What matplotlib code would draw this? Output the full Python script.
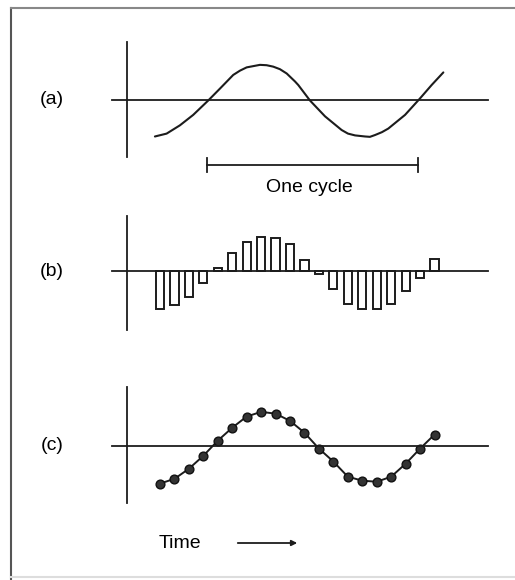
import matplotlib.pyplot as plt
from matplotlib.lines import Line2D

plt.rcParams['font.family'] = ['Liberation Sans', 'DejaVu Sans']

# (a) continuous signal (time in sample units)
t_a = [0.65, 1.46, 2.38, 3.30, 4.34, 5.15, 6.07, 6.54, 7.00, 7.92, 8.38, 8.84, 9.30, 9.77,
       10.34, 10.57, 11.38, 12.42, 13.57, 14.01, 14.50, 15.19, 15.53, 15.88, 16.36, 16.80,
       17.96, 19.00, 19.80, 20.61]
v_a = [-1.00, -0.92, -0.69, -0.40, 0.00, 0.33, 0.71, 0.83, 0.92, 0.99, 0.98, 0.94, 0.87, 0.75,
       0.53, 0.43, 0.00, -0.44, -0.82, -0.92, -0.97, -1.00, -1.01, -0.96, -0.88, -0.78,
       -0.40, 0.06, 0.43, 0.78]

# (b) sampled values as bars, (c) sampled values as dots
n = list(range(1, 21))
v_b = [-1.05, -0.94, -0.72, -0.33, 0.11, 0.50, 0.81, 0.97, 0.92, 0.75,
       0.33, -0.08, -0.50, -0.89, -1.05, -1.05, -0.89, -0.53, -0.17, 0.36]
v_c = [-1.05, -0.92, -0.64, -0.28, 0.14, 0.50, 0.81, 0.94, 0.89, 0.69,
       0.36, -0.08, -0.44, -0.86, -0.97, -1.00, -0.86, -0.50, -0.08, 0.31]

panel_labels = ['(a)', '(b)', '(c)']

W, H = 515, 580
ink = '#1c1c1c'
fig = plt.figure(figsize=(W / 100, H / 100), dpi=100)


def px(x, y):
    return x / W, 1 - y / H


def make_axes(top, bottom, ylo, yhi):
    ax = fig.add_axes([112 / W, 1 - bottom / H, 376 / W, (bottom - top) / H])
    ax.patch.set_alpha(0)
    ax.set_xlim(-2.32, 23.70)
    ax.set_ylim(ylo, yhi)
    ax.spines['top'].set_visible(False)
    ax.spines['right'].set_visible(False)
    ax.spines['left'].set_position(('data', -1.26))
    ax.spines['bottom'].set_position(('data', 0))
    for s in ['left', 'bottom']:
        ax.spines[s].set_linewidth(1.3)
        ax.spines[s].set_color(ink)
    ax.set_xticks([])
    ax.set_yticks([])
    return ax


ax_a = make_axes(42, 157, -1.57, 1.625)
ax_b = make_axes(216, 330, -1.625, 1.54)
ax_c = make_axes(387, 503, -1.59, 1.63)

ax_a.plot(t_a, v_a, color=ink, lw=1.5, solid_capstyle='round', solid_joinstyle='round')

# one cycle marker under the curve
y_cyc = -1.79
ax_a.plot([4.25, 18.85], [y_cyc, y_cyc], color=ink, lw=1.3, clip_on=False)
for t in [4.25, 18.85]:
    ax_a.plot([t, t], [y_cyc - 0.2, y_cyc + 0.2], color=ink, lw=1.3, clip_on=False)

ax_b.bar(n, v_b, width=0.57, facecolor='white', edgecolor=ink, linewidth=1.4)

ax_c.plot(n, v_c, '-o', color=ink, lw=1.4, ms=6.3, mfc='#333333', mec='#111111')

fig.text(*px(309, 188), 'One cycle', ha='center', va='center', fontsize=14)
for lab, y in zip(panel_labels, [100, 271, 445]):
    fig.text(*px(52, y), lab, ha='center', va='center', fontsize=14)

fig.text(*px(159, 543), 'Time', ha='left', va='center', fontsize=14)
ax_c.annotate('', xy=px(300, 543), xytext=px(235, 543), xycoords='figure fraction',
              arrowprops=dict(arrowstyle='-|>', color=ink, lw=1.3, mutation_scale=8))

# page frame
fig.add_artist(Line2D([11 / W, 11 / W], [0, 1 - 8 / H], color='#555555', lw=1.5))
fig.add_artist(Line2D([11 / W, 1], [1 - 8 / H, 1 - 8 / H], color='#888888', lw=1.5))
fig.add_artist(Line2D([11 / W, 1], [1 - 577 / H, 1 - 577 / H], color='#dddddd', lw=1.5))

fig.savefig('out.png', dpi=100)
